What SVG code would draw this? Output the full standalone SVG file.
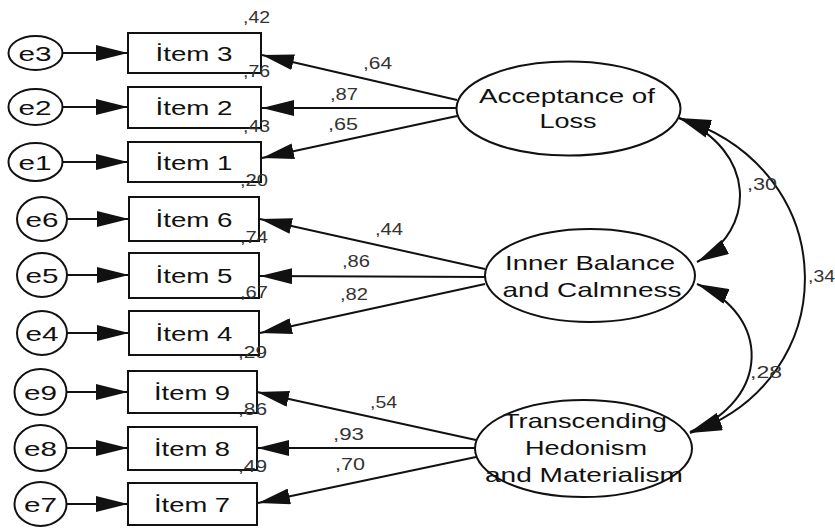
<svg xmlns="http://www.w3.org/2000/svg" width="835" height="528" viewBox="0 0 835 528">
<style>
.bg{fill:#ffffff}
.shape{fill:#ffffff;stroke:#111111;stroke-width:2}
.ln{fill:none;stroke:#111111;stroke-width:2}
.t{font-family:"Liberation Sans",Arial,sans-serif;fill:#111111;text-anchor:middle}
.e{font-size:21px}
.it{font-size:20px}
.lat{font-size:21px}
.n{font-family:"Liberation Sans",Arial,sans-serif;font-size:16px;fill:#333333}
</style>
<defs>
<marker id="ah" markerUnits="userSpaceOnUse" markerWidth="32" markerHeight="16" refX="32" refY="8" orient="auto-start-reverse" viewBox="0 0 32 16">
<path d="M0,0 L32,8 L0,16 z" fill="#111111"/>
</marker>
</defs>
<rect class="bg" x="0" y="0" width="835" height="528"/>

<g id="connectors">
<!-- error to item -->
<line class="ln" x1="62" y1="53" x2="128" y2="53" marker-end="url(#ah)"/>
<line class="ln" x1="62" y1="107" x2="128" y2="107" marker-end="url(#ah)"/>
<line class="ln" x1="62" y1="162" x2="128" y2="162" marker-end="url(#ah)"/>
<line class="ln" x1="67" y1="219" x2="129" y2="219" marker-end="url(#ah)"/>
<line class="ln" x1="67" y1="275" x2="129" y2="275" marker-end="url(#ah)"/>
<line class="ln" x1="67" y1="333" x2="129" y2="333" marker-end="url(#ah)"/>
<line class="ln" x1="67" y1="392" x2="128" y2="392" marker-end="url(#ah)"/>
<line class="ln" x1="67" y1="448" x2="128" y2="448" marker-end="url(#ah)"/>
<line class="ln" x1="67" y1="504" x2="128" y2="504" marker-end="url(#ah)"/>
<!-- loadings -->
<line class="ln" x1="457" y1="100" x2="262" y2="55" marker-end="url(#ah)"/>
<line class="ln" x1="457" y1="108" x2="262" y2="108" marker-end="url(#ah)"/>
<line class="ln" x1="457" y1="116" x2="262" y2="158" marker-end="url(#ah)"/>
<line class="ln" x1="485" y1="269" x2="260" y2="219" marker-end="url(#ah)"/>
<line class="ln" x1="485" y1="277" x2="260" y2="276" marker-end="url(#ah)"/>
<line class="ln" x1="485" y1="284" x2="260" y2="333" marker-end="url(#ah)"/>
<line class="ln" x1="476" y1="440" x2="257" y2="392" marker-end="url(#ah)"/>
<line class="ln" x1="476" y1="448" x2="257" y2="448" marker-end="url(#ah)"/>
<line class="ln" x1="476" y1="457" x2="258" y2="503" marker-end="url(#ah)"/>
<!-- covariances -->
<path class="ln" d="M679,118 C757,150 757,230 697,262" marker-start="url(#ah)" marker-end="url(#ah)"/>
<path class="ln" d="M697,284 C771,315 771,400 690,432" marker-start="url(#ah)" marker-end="url(#ah)"/>
<path class="ln" d="M679,118 C845,170 845,380 690,433" marker-start="url(#ah)" marker-end="url(#ah)"/>
</g>

<g id="e3"><ellipse class="shape" cx="35.5" cy="53" rx="27" ry="17"/><text class="t e" x="35" y="61" textLength="33" lengthAdjust="spacingAndGlyphs">e3</text></g>
<g id="e2"><ellipse class="shape" cx="35.5" cy="107" rx="27" ry="18"/><text class="t e" x="35" y="115" textLength="33" lengthAdjust="spacingAndGlyphs">e2</text></g>
<g id="e1"><ellipse class="shape" cx="35.5" cy="162" rx="27" ry="19"/><text class="t e" x="35" y="170" textLength="33" lengthAdjust="spacingAndGlyphs">e1</text></g>
<g id="e6"><ellipse class="shape" cx="42" cy="219" rx="25" ry="22"/><text class="t e" x="42" y="227" textLength="33" lengthAdjust="spacingAndGlyphs">e6</text></g>
<g id="e5"><ellipse class="shape" cx="42" cy="275" rx="25" ry="22"/><text class="t e" x="42" y="283" textLength="33" lengthAdjust="spacingAndGlyphs">e5</text></g>
<g id="e4"><ellipse class="shape" cx="42" cy="333" rx="25" ry="22"/><text class="t e" x="42" y="341" textLength="33" lengthAdjust="spacingAndGlyphs">e4</text></g>
<g id="e9"><ellipse class="shape" cx="40.5" cy="392" rx="26" ry="23"/><text class="t e" x="40.5" y="400" textLength="33" lengthAdjust="spacingAndGlyphs">e9</text></g>
<g id="e8"><ellipse class="shape" cx="40.5" cy="448" rx="26" ry="23"/><text class="t e" x="40.5" y="456" textLength="33" lengthAdjust="spacingAndGlyphs">e8</text></g>
<g id="e7"><ellipse class="shape" cx="40.5" cy="504" rx="26" ry="22"/><text class="t e" x="40.5" y="512" textLength="33" lengthAdjust="spacingAndGlyphs">e7</text></g>

<g id="item3"><rect class="shape" x="128" y="33" width="133" height="40"/><text class="t it" x="194" y="61" textLength="77" lengthAdjust="spacingAndGlyphs">İtem 3</text></g>
<g id="item2"><rect class="shape" x="128" y="87" width="133" height="41"/><text class="t it" x="194" y="115" textLength="77" lengthAdjust="spacingAndGlyphs">İtem 2</text></g>
<g id="item1"><rect class="shape" x="128" y="142" width="133" height="40"/><text class="t it" x="194" y="170" textLength="77" lengthAdjust="spacingAndGlyphs">İtem 1</text></g>
<g id="item6"><rect class="shape" x="129" y="197" width="130" height="44"/><text class="t it" x="194" y="227" textLength="77" lengthAdjust="spacingAndGlyphs">İtem 6</text></g>
<g id="item5"><rect class="shape" x="129" y="253" width="130" height="45"/><text class="t it" x="194" y="283" textLength="77" lengthAdjust="spacingAndGlyphs">İtem 5</text></g>
<g id="item4"><rect class="shape" x="129" y="311" width="130" height="44"/><text class="t it" x="194" y="341" textLength="77" lengthAdjust="spacingAndGlyphs">İtem 4</text></g>
<g id="item9"><rect class="shape" x="128" y="371" width="129" height="42"/><text class="t it" x="192" y="400" textLength="76" lengthAdjust="spacingAndGlyphs">İtem 9</text></g>
<g id="item8"><rect class="shape" x="128" y="427" width="129" height="43"/><text class="t it" x="192" y="456" textLength="76" lengthAdjust="spacingAndGlyphs">İtem 8</text></g>
<g id="item7"><rect class="shape" x="128" y="483" width="129" height="42"/><text class="t it" x="192" y="512" textLength="76" lengthAdjust="spacingAndGlyphs">İtem 7</text></g>

<g id="acceptance"><ellipse class="shape" cx="568.5" cy="108.5" rx="112" ry="47"/>
<text class="t lat" x="567" y="103" textLength="176" lengthAdjust="spacingAndGlyphs">Acceptance of</text>
<text class="t lat" x="568" y="128" textLength="57" lengthAdjust="spacingAndGlyphs">Loss</text></g>
<g id="innerbalance"><ellipse class="shape" cx="590" cy="275.5" rx="105" ry="46.5"/>
<text class="t lat" x="590" y="270" textLength="170" lengthAdjust="spacingAndGlyphs">Inner Balance</text>
<text class="t lat" x="592" y="297" textLength="179" lengthAdjust="spacingAndGlyphs">and Calmness</text></g>
<g id="transcending"><ellipse class="shape" cx="583.5" cy="448.5" rx="108.5" ry="48.5"/>
<text class="t lat" x="585" y="428" textLength="164" lengthAdjust="spacingAndGlyphs">Transcending</text>
<text class="t lat" x="586" y="455" textLength="122" lengthAdjust="spacingAndGlyphs">Hedonism</text>
<text class="t lat" x="584" y="482" textLength="198" lengthAdjust="spacingAndGlyphs">and Materialism</text></g>

<g id="labels">
<text class="n" x="243" y="23" textLength="27" lengthAdjust="spacingAndGlyphs">,42</text>
<text class="n" x="243" y="77" textLength="27" lengthAdjust="spacingAndGlyphs">,76</text>
<text class="n" x="243" y="132" textLength="27" lengthAdjust="spacingAndGlyphs">,43</text>
<text class="n" x="240" y="186" textLength="28" lengthAdjust="spacingAndGlyphs">,20</text>
<text class="n" x="240" y="243" textLength="28" lengthAdjust="spacingAndGlyphs">,74</text>
<text class="n" x="240" y="298" textLength="28" lengthAdjust="spacingAndGlyphs">,67</text>
<text class="n" x="238" y="358" textLength="29" lengthAdjust="spacingAndGlyphs">,29</text>
<text class="n" x="238" y="415" textLength="29" lengthAdjust="spacingAndGlyphs">,86</text>
<text class="n" x="238" y="472" textLength="29" lengthAdjust="spacingAndGlyphs">,49</text>
<text class="n" x="363" y="69" textLength="29" lengthAdjust="spacingAndGlyphs">,64</text>
<text class="n" x="330" y="100" textLength="28" lengthAdjust="spacingAndGlyphs">,87</text>
<text class="n" x="328" y="130" textLength="30" lengthAdjust="spacingAndGlyphs">,65</text>
<text class="n" x="375" y="235" textLength="28" lengthAdjust="spacingAndGlyphs">,44</text>
<text class="n" x="342" y="267" textLength="28" lengthAdjust="spacingAndGlyphs">,86</text>
<text class="n" x="340" y="300" textLength="28" lengthAdjust="spacingAndGlyphs">,82</text>
<text class="n" x="370" y="408" textLength="27" lengthAdjust="spacingAndGlyphs">,54</text>
<text class="n" x="333" y="440" textLength="31" lengthAdjust="spacingAndGlyphs">,93</text>
<text class="n" x="335" y="470" textLength="30" lengthAdjust="spacingAndGlyphs">,70</text>
<text class="n" x="747" y="190" textLength="30" lengthAdjust="spacingAndGlyphs">,30</text>
<text class="n" x="808" y="282" textLength="27" lengthAdjust="spacingAndGlyphs">,34</text>
<text class="n" x="750" y="378" textLength="32" lengthAdjust="spacingAndGlyphs">,28</text>
</g>
</svg>
